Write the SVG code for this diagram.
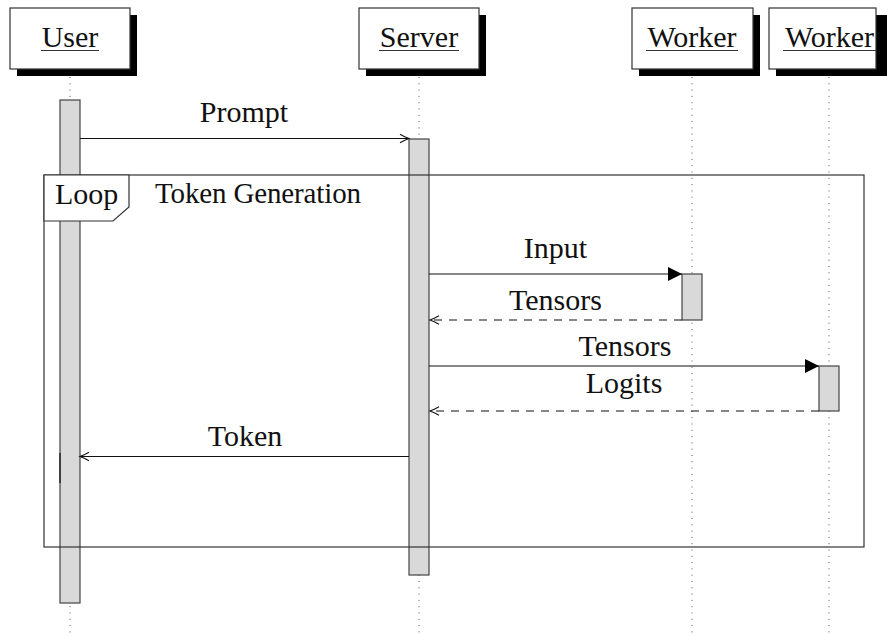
<svg xmlns="http://www.w3.org/2000/svg" width="887" height="636" viewBox="0 0 887 636">
  <style>
    .t { font-family: 'Liberation Serif', 'Times New Roman', Times, serif; font-size: 30px; fill: #111; }
    .mid { text-anchor: middle; }
    .ul { stroke: #333; stroke-width: 1; }
    .box { fill: #fff; stroke: #333; stroke-width: 1.2; }
    .shadow { fill: #000; }
    .life { stroke: #555; stroke-width: 1; stroke-dasharray: 1 5.3; fill: none; }
    .bar { fill: #d9d9d9; stroke: #444; stroke-width: 1.2; }
    .msg { stroke: #111; stroke-width: 1.1; fill: none; }
    .ret { stroke: #111; stroke-width: 1.1; fill: none; stroke-dasharray: 8 7; }
    .frame { fill: none; stroke: #333; stroke-width: 1.2; }
  </style>
  <defs>
    <marker id="open" viewBox="-11 -6 13 12" refX="0" refY="0" markerWidth="13" markerHeight="12" markerUnits="userSpaceOnUse" orient="auto">
      <path d="M -9 -4.2 Q -3 -1 0 0 Q -3 1 -9 4.2" fill="none" stroke="#111" stroke-width="1.1"/>
    </marker>
    <marker id="solid" viewBox="-15 -8 16 16" refX="0" refY="0" markerWidth="16" markerHeight="16" markerUnits="userSpaceOnUse" orient="auto">
      <path d="M -14 -7 L 0 0 L -14 7 Z" fill="#000"/>
    </marker>
  </defs>

  <!-- lifelines -->
  <g id="lifelines">
    <line class="life" x1="70" y1="77" x2="70" y2="636"/>
    <line class="life" x1="419" y1="77" x2="419" y2="636"/>
    <line class="life" x1="692" y1="77" x2="692" y2="636"/>
    <line class="life" x1="829" y1="77" x2="829" y2="636"/>
  </g>

  <!-- participants -->
  <g id="user">
    <rect class="shadow" x="17" y="15" width="120" height="61"/>
    <rect class="box" x="10" y="8" width="120" height="61"/>
    <text class="t mid" x="70" y="46.5">User</text>
    <line class="ul" x1="41" y1="50.5" x2="99" y2="50.5"/>
  </g>
  <g id="server">
    <rect class="shadow" x="366" y="15" width="120" height="61"/>
    <rect class="box" x="359" y="8" width="120" height="61"/>
    <text class="t mid" x="419" y="46.5">Server</text>
    <line class="ul" x1="379" y1="50.5" x2="459" y2="50.5"/>
  </g>
  <g id="worker1">
    <rect class="shadow" x="639" y="15" width="121" height="61"/>
    <rect class="box" x="632" y="8" width="121" height="61"/>
    <text class="t mid" x="692" y="46.5">Worker</text>
    <line class="ul" x1="646" y1="50.5" x2="738" y2="50.5"/>
  </g>
  <g id="worker2">
    <rect class="shadow" x="776" y="15" width="115" height="61"/>
    <rect class="box" x="769" y="8" width="107" height="61"/>
    <text class="t mid" x="829.5" y="46.5">Worker</text>
    <line class="ul" x1="783" y1="50.5" x2="876" y2="50.5"/>
  </g>

  <!-- activation bars -->
  <g id="user-activation">
    <rect class="bar" x="60" y="100" width="20" height="503"/>
    <line x1="60" y1="453" x2="60" y2="483" stroke="#222" stroke-width="1.4"/>
  </g>
  <g id="server-activation">
    <rect class="bar" x="409" y="139" width="20" height="436"/>
  </g>
  <g id="worker1-activation">
    <rect class="bar" x="682" y="274" width="20" height="46"/>
  </g>
  <g id="worker2-activation">
    <rect class="bar" x="819" y="366" width="20" height="45"/>
  </g>

  <!-- loop frame -->
  <g id="loop">
    <rect class="frame" x="44" y="175" width="820" height="372"/>
    <path d="M 44 175 L 129 175 L 129 207 L 113 221 L 44 221 Z" fill="#fff" stroke="#333" stroke-width="1.2"/>
    <text class="t" x="55" y="204">Loop</text>
    <text class="t" x="155" y="203" style="font-size:29px" textLength="206" lengthAdjust="spacing">Token Generation</text>
  </g>

  <!-- messages -->
  <g id="connectors">
    <line class="msg" x1="80" y1="138.5" x2="409" y2="138.5" marker-end="url(#open)"/>
    <line class="msg" x1="429" y1="274" x2="682" y2="274" marker-end="url(#solid)"/>
    <line class="ret" x1="682" y1="320" x2="430" y2="320" marker-end="url(#open)"/>
    <line class="msg" x1="429" y1="366" x2="819" y2="366" marker-end="url(#solid)"/>
    <line class="ret" x1="819" y1="411" x2="430" y2="411" marker-end="url(#open)"/>
    <line class="msg" x1="409" y1="456.5" x2="80" y2="456.5" marker-end="url(#open)"/>
  </g>

  <!-- message labels -->
  <g id="labels">
    <text class="t mid" x="244" y="122">Prompt</text>
    <text class="t mid" x="555.5" y="258">Input</text>
    <text class="t mid" x="555.5" y="310">Tensors</text>
    <text class="t mid" x="625" y="356">Tensors</text>
    <text class="t mid" x="624" y="393">Logits</text>
    <text class="t mid" x="245" y="446">Token</text>
  </g>
</svg>
